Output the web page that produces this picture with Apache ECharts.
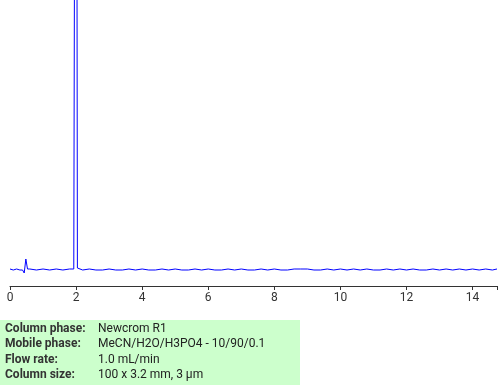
<!DOCTYPE html>
<html><head><meta charset="utf-8">
<script src="https://cdn.jsdelivr.net/npm/echarts@6/dist/echarts.min.js"></script>
<style>html,body{margin:0;padding:0;background:#fff}#c{width:500px;height:385px}</style>
</head><body><div id="c"></div>
<script>
var time = [0,0.1,0.2,0.3,0.38,0.43,0.48,0.53,0.6,0.8,1.0,1.2,1.4,1.6,1.8,1.93,1.96,2.0,2.04,2.07,
2.2,2.4,2.6,2.8,3.0,3.2,3.4,3.6,3.8,4.0,4.2,4.4,4.6,4.8,5.0,5.2,5.4,5.6,5.8,6.0,6.2,6.4,6.6,6.8,7.0,
7.2,7.4,7.6,7.8,8.0,8.2,8.4,8.6,8.8,9.0,9.2,9.4,9.6,9.8,10.0,10.2,10.4,10.6,10.8,11.0,11.2,11.4,11.6,
11.8,12.0,12.2,12.4,12.6,12.8,13.0,13.2,13.4,13.6,13.8,14.0,14.2,14.4,14.6,14.74];
var signal = [0,-1,0,-1,-1,-4,10,0,0,-1,0,-1,0,-1,0,0,1,1000,1,-1,
-1,0,-1,-1,0,-1,-1,0,-1,0,-1,-1,0,-1,0,-1,-1,0,-1,0,-1,-1,0,-1,0,
-1,-1,0,-1,0,-1,-1,0,0,0,-1,-1,0,-1,0,-1,0,-1,0,-1,-1,0,-1,
0,-1,0,-1,-1,0,-1,0,-1,0,-1,0,-1,0,-1,0];
var xTicks = [0,2,4,6,8,10,12,14];
var infoLabels = ["Column phase:","Mobile phase:","Flow rate:","Column size:"];
var infoValues = ["Newcrom R1","MeCN/H2O/H3PO4 - 10/90/0.1","1.0 mL/min","100 x 3.2 mm, 3 \u00b5m"];

var pts = time.map(function(t,i){return [t, signal[i]];});
var chart = echarts.init(document.getElementById('c'));
var g = [{type:'rect',left:0,top:320,shape:{width:300,height:65},style:{fill:'#ccffcc'},silent:true}];
infoLabels.forEach(function(l,i){
  g.push({type:'text',left:5,top:323+i*15.3,style:{text:l,fill:'#333',font:'bold 12px Roboto'}});
  g.push({type:'text',left:98,top:323+i*15.3,style:{text:infoValues[i],fill:'#222',font:'12px Roboto'}});
});
chart.setOption({
  animation:false,
  grid:{left:10,right:0,top:0,bottom:99},
  xAxis:{type:'value',min:0,max:14.74,interval:2,
    axisLine:{onZero:false,lineStyle:{color:'#333',width:1}},
    axisTick:{length:4,lineStyle:{color:'#333'}},
    axisLabel:{fontSize:12,color:'#333',fontFamily:'Roboto',margin:6,
      formatter:function(v){return xTicks.indexOf(v)>=0?String(v):'';}},
    splitLine:{show:false}},
  yAxis:{type:'value',min:-17,max:269,show:false,splitLine:{show:false}},
  series:[{type:'line',data:pts,showSymbol:false,clip:true,
    lineStyle:{color:'#0000ff',width:1}}],
  graphic:g
});
</script></body></html>
